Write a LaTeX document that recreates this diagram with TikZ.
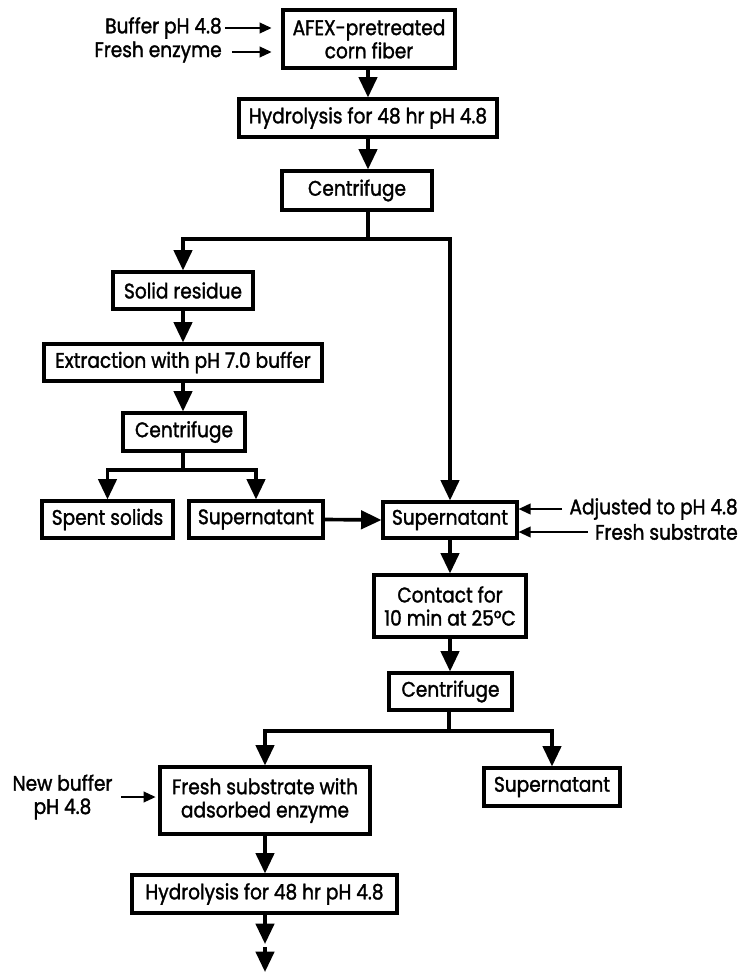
\documentclass[tikz,border=0pt]{standalone}
\usepackage{fontspec}
\setmainfont{Poppins}[FakeStretch=0.88,FakeBold=1.5]
\usetikzlibrary{arrows.meta}
\begin{document}
\begin{tikzpicture}[x=0.025cm,y=-0.025cm,
  font=\fontsize{15}{16.5}\selectfont,
  bx/.style 2 args={draw,line width=2.2pt,minimum width=#1*0.025cm,minimum height=#2*0.025cm,inner sep=0pt,align=center},
  lbl/.style={inner sep=0pt,align=center},
  arr/.style={line width=2.6pt,-{Triangle[width=13pt,length=14.5pt]}},
  inarr/.style={line width=1.4pt,-{Triangle[width=7.5pt,length=8.5pt]}},
  ln/.style={line width=2.6pt}]
\useasboundingbox (0,0) rectangle (740,972);

% boxes
\node[bx={172}{58}] (afex) at (369,39) {AFEX-pretreated\\corn fiber};
\node[bx={258}{38}] (hyd1) at (368,118) {Hydrolysis for 48 hr pH 4.8};
\node[bx={150}{39}] (c1) at (357,190.5) {Centrifuge};
\node[bx={140}{37}] (solid) at (183,290.5) {Solid residue};
\node[bx={278}{37}] (extr) at (183,362.5) {Extraction with pH 7.0 buffer};
\node[bx={122}{38}] (c2) at (184,432) {Centrifuge};
\node[bx={131}{37}] (spent) at (107.5,519.5) {Spent solids};
\node[bx={134}{37}] (sup1) at (256,519.5) {Supernatant};
\node[bx={134}{36}] (sup2) at (450,520) {Supernatant};
\node[bx={152}{62}] (contact) at (450,606) {Contact for\\10 min at 25°C};
\node[bx={123}{37}] (c3) at (450.5,691.5) {Centrifuge};
\node[bx={210}{67}] (fresh) at (265,800.5) {Fresh substrate with\\adsorbed enzyme};
\node[bx={136}{38}] (sup3) at (552,787) {Supernatant};
\node[bx={265}{38}] (hyd2) at (264.5,894) {Hydrolysis for 48 hr pH 4.8};

% side labels
\node[lbl,anchor=east] (buf) at (222,28) {Buffer pH 4.8};
\node[lbl,anchor=east] (enz) at (222,52) {Fresh enzyme};
\node[lbl,anchor=east] (adj) at (738,509) {Adjusted to pH 4.8};
\node[lbl,anchor=east] (fsub) at (738,532) {Fresh substrate};
\node[lbl] (nbuf) at (62.5,797) {New buffer\\pH 4.8};

% junctions
\coordinate (j1) at (368,239);
\coordinate (j2) at (183,470);
\coordinate (j3) at (449,731);
\coordinate (b1) at (265,944);
\coordinate (b2) at (265,947);
\coordinate (b3) at (265,972);

% input arrows
\draw[inarr,shorten <=2pt,shorten >=7pt] (buf.east) -- (buf.east -| afex.west);
\draw[inarr,shorten <=7pt,shorten >=7pt] (enz.east) -- (enz.east -| afex.west);
\draw[inarr,shorten <=5pt,shorten >=0pt] (adj.west) -- (adj.west -| sup2.east);
\draw[inarr,shorten <=5pt,shorten >=0pt] (fsub.west) -- (fsub.west -| sup2.east);
\draw[inarr,shorten <=6pt,shorten >=2pt] (nbuf.east) -- (nbuf.east -| fresh.west);

% main flow
\draw[arr] (afex.south -| hyd1) -- (hyd1.north);
\draw[arr] (hyd1.south) -- (hyd1.south |- c1.north);
\draw[ln] (c1.south -| j1) -- (j1);
\draw[arr] (j1) -| (solid.north);
\draw[arr] (j1) -| (sup2.north);
\draw[arr] (solid.south) -- (extr.north);
\draw[arr] (extr.south) -- (extr.south |- c2.north);
\draw[ln] (c2.south -| j2) -- (j2);
\draw[arr] (j2) -| (spent.north);
\draw[arr] (j2) -| (sup1.north);
\draw[arr] (sup1.east) -- (sup2.west);
\draw[arr] (sup2.south) -- (contact.north);
\draw[arr] (contact.south) -- (contact.south |- c3.north);
\draw[ln] (c3.south -| j3) -- (j3);
\draw[arr] (j3) -| (fresh.north);
\draw[arr] (j3) -| (sup3.north);
\draw[arr] (fresh.south -| b1) -- (hyd2.north -| b1);
\draw[arr] (hyd2.south -| b1) -- (b1);
\draw[arr] (b2) -- (b3);
\end{tikzpicture}
\end{document}
